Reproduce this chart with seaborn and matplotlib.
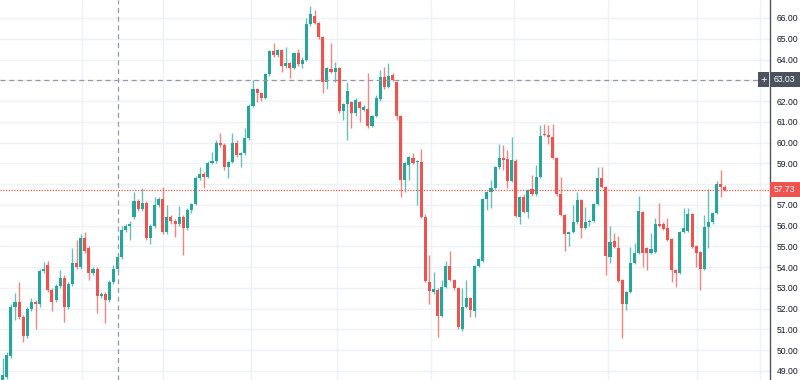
import matplotlib
matplotlib.use("Agg")
import matplotlib.pyplot as plt
import matplotlib.transforms as mtransforms
from matplotlib.patches import Rectangle
import numpy as np
import seaborn as sns

# daily OHLC values (oldest first)
opens = [48.5, 48.7, 49.7, 52.1, 52.3, 51.6, 50.7, 52.0, 52.3, 52.2,
         53.8, 54.1, 52.9, 52.4, 53.1, 53.5, 52.1, 53.2, 54.2, 54.0,
         55.4, 54.9, 53.7, 53.9, 52.6, 52.7, 52.4, 53.3, 53.9, 54.5,
         55.8, 56.0, 56.4, 57.2, 56.8, 57.1, 55.4, 56.0, 57.0, 57.3,
         55.7, 56.4, 56.2, 56.1, 56.4, 55.9, 56.75, 57.05, 58.3, 58.5,
         58.35, 59.0, 59.1, 60.0, 59.9, 58.8, 59.05, 60.0, 59.4, 59.5,
         60.2, 61.75, 62.6, 62.4, 62.15, 63.3, 64.4, 64.2, 64.45, 63.7,
         63.85, 63.6, 64.3, 63.8, 64.0, 65.7, 66.1, 65.75, 65.1, 62.9,
         63.55, 63.4, 63.6, 61.5, 61.85, 61.95, 61.4, 61.95, 61.55, 61.6,
         60.8, 61.3, 62.1, 63.15, 62.7, 63.25, 62.9, 61.3, 58.2, 58.9,
         59.25, 59.05, 59.05, 56.4, 53.3, 52.8, 52.9, 51.65, 53.05, 54.05,
         53.4, 53.0, 51.0, 52.1, 52.5, 51.9, 54.05, 54.3, 57.3, 57.6,
         57.8, 58.8, 59.25, 59.2, 58.15, 59.1, 56.4, 57.4, 56.65, 57.75,
         57.5, 58.35, 60.4, 60.35, 60.25, 59.25, 57.5, 56.5, 55.6, 55.7,
         56.15, 57.25, 55.9, 56.15, 56.2, 57.05, 58.3, 57.85, 54.5, 55.25,
         54.9, 53.4, 52.2, 52.8, 54.2, 54.7, 56.65, 54.9, 54.7, 54.75,
         56.1, 56.1, 55.9, 55.35, 53.85, 53.7, 55.7, 55.75, 56.55, 55.0,
         54.75, 53.9, 55.95, 56.15, 56.6, 58.0, 57.85]
highs = [49.6, 49.9, 52.2, 52.75, 53.3, 51.7, 52.1, 52.5, 52.4, 53.9,
         54.25, 54.3, 53.0, 53.2, 53.85, 53.6, 53.3, 54.9, 55.3, 55.6,
         55.7, 55.0, 54.0, 54.0, 52.8, 52.8, 53.4, 54.1, 54.6, 56.0,
         56.1, 56.2, 57.6, 57.3, 57.8, 57.2, 56.1, 57.4, 57.4, 57.85,
         57.0, 56.5, 56.3, 56.95, 56.5, 56.85, 57.1, 58.4, 58.8, 58.6,
         59.1, 59.55, 60.1, 60.45, 60.0, 59.1, 60.45, 60.1, 59.55, 60.7,
         61.85, 63.0, 62.65, 62.45, 63.35, 64.45, 64.8, 64.5, 64.5, 64.6,
         63.9, 64.35, 64.5, 64.1, 66.0, 66.6, 66.4, 65.8, 65.15, 63.65,
         64.8, 63.9, 63.65, 61.9, 62.9, 62.0, 62.15, 62.0, 61.8, 63.35,
         61.35, 62.3, 63.5, 63.65, 63.85, 63.35, 62.95, 61.35, 59.05, 59.35,
         59.5, 59.15, 59.7, 56.55, 54.6, 53.75, 53.0, 53.4, 54.3, 54.8,
         53.45, 53.05, 53.0, 53.4, 52.55, 54.1, 54.45, 57.35, 57.65, 58.2,
         58.85, 59.95, 59.9, 59.65, 60.25, 59.2, 57.45, 57.5, 57.75, 58.45,
         58.9, 60.85, 60.9, 60.85, 60.9, 59.3, 58.35, 56.55, 55.75, 57.0,
         57.6, 57.3, 56.9, 56.3, 57.1, 58.8, 58.8, 57.9, 56.0, 55.65,
         55.5, 53.45, 52.85, 54.95, 55.15, 57.45, 56.7, 54.95, 55.65, 56.35,
         57.1, 56.15, 56.35, 55.4, 53.9, 55.75, 56.85, 56.85, 56.6, 55.05,
         54.8, 56.5, 57.75, 56.65, 58.15, 58.7, 57.95]
lows = [48.3, 48.6, 49.6, 51.45, 51.5, 50.4, 50.6, 51.9, 51.0, 52.1,
        53.7, 52.8, 51.9, 52.3, 53.0, 51.35, 52.0, 53.1, 53.9, 53.9,
        54.7, 53.4, 53.6, 51.8, 52.5, 51.3, 52.3, 53.2, 53.8, 54.4,
        55.7, 55.3, 56.3, 56.7, 56.7, 55.3, 55.1, 55.9, 56.9, 55.6,
        55.6, 56.1, 55.45, 56.0, 54.6, 55.8, 56.6, 57.0, 58.2, 57.8,
        58.3, 58.95, 59.0, 59.8, 58.7, 58.3, 59.0, 59.3, 58.8, 59.4,
        60.1, 61.7, 61.95, 62.0, 62.1, 63.2, 64.1, 64.1, 63.4, 63.6,
        63.1, 63.55, 63.7, 63.6, 63.95, 65.6, 65.7, 65.0, 62.4, 62.6,
        63.35, 62.9, 61.4, 61.1, 60.1, 60.7, 61.3, 61.0, 61.5, 60.7,
        60.75, 61.25, 62.0, 62.6, 62.65, 62.95, 61.1, 57.4, 57.6, 58.2,
        58.95, 57.0, 56.35, 53.3, 52.2, 52.7, 50.65, 51.6, 53.0, 53.35,
        52.9, 51.0, 50.9, 52.05, 51.6, 51.6, 54.0, 54.25, 56.75, 56.85,
        57.75, 58.75, 58.7, 57.8, 58.1, 56.4, 56.1, 56.6, 56.35, 57.45,
        57.45, 58.3, 60.3, 59.95, 59.2, 57.45, 56.45, 54.8, 55.0, 55.65,
        56.1, 55.4, 55.85, 56.0, 56.15, 57.0, 57.8, 53.6, 54.2, 54.9,
        53.3, 50.6, 51.95, 52.75, 54.15, 54.65, 54.0, 53.85, 54.65, 54.7,
        55.95, 55.8, 55.25, 53.3, 53.05, 53.65, 55.65, 55.7, 54.9, 54.0,
        52.9, 53.85, 54.9, 56.1, 56.55, 57.4, 57.65]
closes = [48.8, 49.77, 52.1, 52.3, 51.6, 50.7, 52.0, 52.3, 52.2, 53.8,
          53.9, 52.9, 52.3, 53.1, 53.5, 52.1, 53.2, 54.2, 54.0, 55.4,
          54.8, 53.7, 53.9, 52.6, 52.7, 52.4, 53.3, 53.9, 54.5, 55.8,
          56.0, 56.1, 57.2, 56.8, 57.1, 55.4, 56.0, 57.0, 57.3, 55.7,
          56.4, 56.2, 56.1, 56.4, 55.9, 56.75, 57.05, 58.3, 58.5, 58.35,
          59.0, 59.1, 60.0, 59.9, 58.8, 59.05, 60.0, 59.4, 59.5, 60.2,
          61.75, 62.6, 62.4, 62.15, 63.3, 64.4, 64.2, 64.45, 63.7, 63.85,
          63.6, 64.3, 63.8, 64.0, 65.7, 66.2, 65.75, 65.1, 62.9, 63.6,
          63.4, 63.6, 61.5, 61.85, 62.5, 61.4, 62.05, 61.65, 61.7, 60.8,
          61.3, 62.15, 63.15, 62.7, 63.2, 63.0, 61.3, 58.2, 59.0, 59.3,
          59.0, 59.1, 56.4, 53.35, 52.85, 52.95, 51.65, 53.05, 54.05, 53.4,
          53.0, 51.1, 52.1, 52.5, 51.95, 54.05, 54.4, 57.3, 57.6, 57.8,
          58.8, 59.25, 59.15, 58.15, 59.15, 56.45, 57.4, 56.65, 57.7, 57.5,
          58.35, 60.3, 60.35, 60.25, 59.25, 57.5, 56.5, 55.6, 55.7, 56.15,
          57.25, 55.9, 56.15, 56.2, 57.05, 58.3, 57.85, 54.55, 55.2, 54.95,
          53.35, 52.2, 52.8, 54.2, 54.7, 56.7, 54.7, 54.7, 54.85, 56.1,
          56.0, 55.85, 55.3, 53.85, 53.7, 55.7, 55.9, 56.55, 54.95, 54.7,
          53.9, 55.95, 56.15, 56.6, 58.0, 57.85, 57.73]

# time grid (month boundaries) in bar-index units, and the crosshair
month_lines = [19.3, 39.1, 60.5, 81.5, 104.5, 124.5, 147.6, 169.3, 184.5]
cross_bar = 28.1
cross_price = 63.03
last_price = closes[-1]
price_ticks = list(range(49, 67))

GREEN = "#26a69a"
RED = "#ef5350"
FS = 6.2

sns.set_theme(style="white")
plt.rcParams['font.family'] = ['Liberation Sans', 'DejaVu Sans']

fig = plt.figure(figsize=(8, 3.8), dpi=100)
ax = fig.add_axes([0, 0, 770 / 800, 1])

o = np.array(opens)
h = np.array(highs)
l = np.array(lows)
c = np.array(closes)
idx = np.arange(len(c))
cols = np.where(c >= o, GREEN, RED)

for x in month_lines:
    ax.axvline(x, color="#eef1f6", lw=1, zorder=0)
ax.set_yticks(price_ticks)
# price labels hidden under the two price boxes are left blank
ax.set_yticklabels(["" if abs(t - last_price) < 0.5 or abs(t - cross_price) < 0.5
                    else f"{t:.2f}" for t in price_ticks])
ax.yaxis.grid(True, color="#eef1f6", lw=1)
ax.set_axisbelow(True)

ax.vlines(idx, l, h, colors=cols, linewidth=1, alpha=0.7, zorder=2)
ax.bar(idx, np.maximum(np.abs(c - o), 0.06), bottom=np.minimum(o, c),
       width=0.75, color=cols, linewidth=0, zorder=3)

# crosshair
ax.axvline(cross_bar, color="#9598a1", lw=0.9, ls=(0, (4, 3)), zorder=4)
ax.axhline(cross_price, color="#9598a1", lw=0.9, ls=(0, (4, 3)), zorder=4)
# last price line
ax.axhline(last_price, color=RED, lw=0.9, ls=(0, (1, 1.2)), zorder=4)

ax.set_xlim(-0.66, 187.0)
ax.set_ylim(48.563, 66.867)
ax.set_xticks([])
ax.yaxis.tick_right()
ax.tick_params(axis="y", length=3, width=0.8, color="#50535e",
               labelsize=FS, labelcolor="#131722", pad=2)
sns.despine(ax=ax, left=True, top=True, bottom=True, right=False)
ax.spines["right"].set_color("#50535e")
ax.spines["right"].set_linewidth(1)

trans = mtransforms.blended_transform_factory(ax.transAxes, ax.transData)
bw = 30 / 770
bh = 0.35
# last price label
ax.add_patch(Rectangle((1.0, last_price - bh), bw, 2 * bh, transform=trans,
                       fc=RED, ec="none", clip_on=False, zorder=10))
ax.text(1.0 + 4 / 770, last_price, f"{last_price:.2f}", transform=trans,
        ha="left", va="center", color="white", fontsize=FS, zorder=11)
# crosshair price label with the plus button
ax.add_patch(Rectangle((1.0, cross_price - bh), bw, 2 * bh, transform=trans,
                       fc="#4c525e", ec="none", clip_on=False, zorder=10))
ax.text(1.0 + 4 / 770, cross_price, f"{cross_price:.2f}", transform=trans,
        ha="left", va="center", color="white", fontsize=FS, zorder=11)
ax.add_patch(Rectangle((1.0 - 12 / 770, cross_price - bh), 11 / 770, 2 * bh,
                       transform=trans, fc="#4c525e", ec="none", clip_on=False,
                       zorder=10))
ax.text(1.0 - 6.5 / 770, cross_price, "+", transform=trans, ha="center",
        va="center", color="white", fontsize=8, zorder=11)

fig.savefig("out.png", dpi=100)
